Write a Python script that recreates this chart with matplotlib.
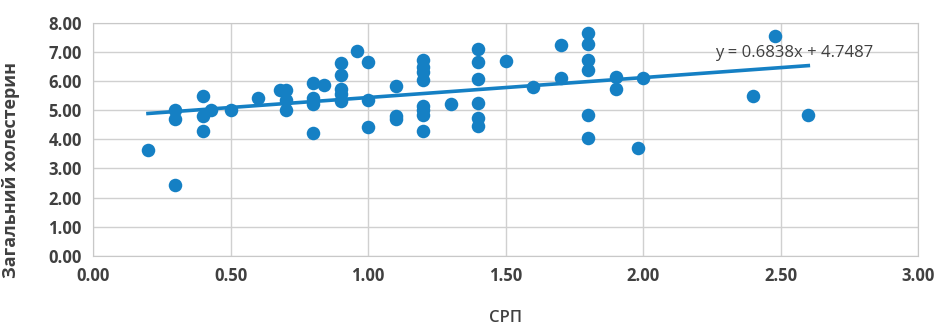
import matplotlib
matplotlib.use("Agg")
import numpy as np
import matplotlib.pyplot as plt

# СРП values
srp = [0.20, 0.30, 0.30, 0.30, 0.40, 0.40, 0.40, 0.43, 0.50, 0.60,
       0.68, 0.70, 0.70, 0.70, 0.80, 0.84, 0.80, 0.80, 0.80, 0.90,
       0.90, 0.90, 0.90, 0.90, 0.96, 1.00, 1.00, 1.00, 1.10, 1.10,
       1.10, 1.20, 1.20, 1.20, 1.20, 1.20, 1.20, 1.20, 1.20, 1.30,
       1.40, 1.40, 1.40, 1.40, 1.40, 1.40, 1.50, 1.60, 1.70, 1.70,
       1.80, 1.80, 1.80, 1.80, 1.80, 1.80, 1.90, 1.90, 1.98, 2.00,
       2.48, 2.40, 2.60]
# загальний холестерин values
chol = [3.63, 2.45, 5.00, 4.70, 5.50, 4.80, 4.30, 5.00, 5.00, 5.42,
        5.70, 5.70, 5.34, 5.00, 5.93, 5.86, 5.40, 5.20, 4.20, 6.60,
        6.20, 5.74, 5.57, 5.30, 7.03, 6.65, 5.34, 4.43, 5.82, 4.80,
        4.70, 6.73, 6.48, 6.31, 6.03, 5.14, 5.00, 4.83, 4.30, 5.20,
        7.08, 6.65, 6.08, 5.23, 4.72, 4.45, 6.69, 5.78, 7.25, 6.11,
        7.63, 7.28, 6.71, 6.37, 4.85, 4.03, 6.14, 5.74, 3.69, 6.11,
        7.53, 5.48, 4.85]

slope = 0.6838
intercept = 4.7487

blue = '#1580C4'
txt = '#404040'

fig = plt.figure(figsize=(9.39, 3.31), dpi=100)
ax = fig.add_axes([0.099, 0.2266, 0.879, 0.705])

ax.scatter(srp, chol, s=95, color=blue, zorder=3, linewidths=0)

xl = np.array([min(srp), max(srp)])
ax.plot(xl, slope * xl + intercept, color=blue, lw=2.6, zorder=4)
ax.text(2.55, 6.95, 'y = 0.6838x + 4.7487', ha='center', va='center',
        fontsize=12, color=txt, family='Open Sans', zorder=5)

ax.set_xlim(0, 3)
ax.set_ylim(0, 8)
ax.set_xticks(np.arange(0, 3.01, 0.5))
ax.set_yticks(np.arange(0, 8.01, 1))
ax.xaxis.set_major_formatter(matplotlib.ticker.FormatStrFormatter('%.2f'))
ax.yaxis.set_major_formatter(matplotlib.ticker.FormatStrFormatter('%.2f'))
ax.grid(True, color='#D0D0D0', lw=1)
ax.set_axisbelow(True)
for s in ax.spines.values():
    s.set_color('#C8C8C8')
ax.tick_params(length=0, pad=8, labelcolor=txt)
for lab in ax.get_xticklabels() + ax.get_yticklabels():
    lab.set_fontsize(12)
    lab.set_fontweight('bold')
    lab.set_family('Open Sans')

ax.set_xlabel('СРП', fontsize=12, color=txt, family='Open Sans',
              fontweight='semibold', labelpad=18)
ax.set_ylabel('Загальний холестерин', fontsize=13, color=txt, family='Open Sans',
              fontweight='bold')
ax.yaxis.set_label_coords(-0.088, 0.37)

fig.savefig('out.png', dpi=100)
